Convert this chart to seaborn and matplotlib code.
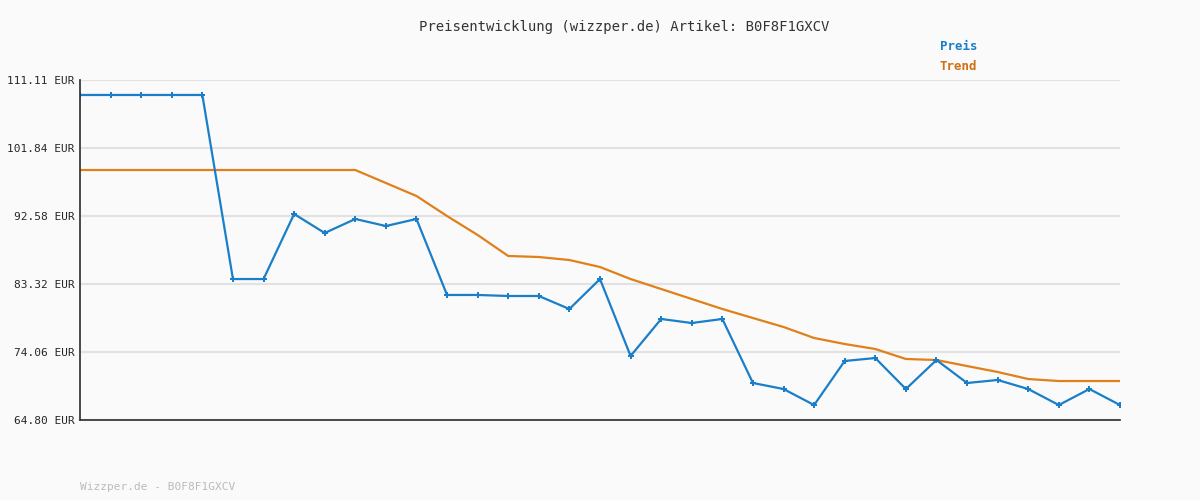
import matplotlib
matplotlib.use("Agg")
import matplotlib.pyplot as plt
import seaborn as sns
import pandas as pd
import numpy as np

preis = [109.07,109.07,109.07,109.07,109.07,84.0,84.0,92.86,90.27,92.18,91.22,92.18,
         81.83,81.83,81.69,81.69,79.92,84.0,73.52,78.56,78.01,78.56,69.84,69.02,66.84,
         72.84,73.24,69.02,72.97,69.84,70.25,69.02,66.84,69.02,66.84]
trend = [98.85]*10 + [97.08,95.31,92.58,90.0,87.14,87.0,86.59,85.64,84.0,82.64,81.28,79.92,
         78.69,77.47,75.97,75.15,74.47,73.11,72.97,72.15,71.34,70.38,70.11,70.11,70.11]
yticks = [64.80,74.06,83.32,92.58,101.84,111.11]
ylabels = ["64.80 EUR","74.06 EUR","83.32 EUR","92.58 EUR","101.84 EUR","111.11 EUR"]

df = pd.DataFrame({"idx": np.arange(len(preis)), "Preis": preis, "Trend": trend})

sns.set_theme(style="white")
plt.rcParams['font.family'] = ['DejaVu Sans Mono']
fig = plt.figure(figsize=(12, 5), dpi=100, facecolor="#fafafa")
ax = fig.add_axes([80/1200, 0.16, 1040/1200, 0.68])
ax.set_facecolor("#fafafa")
sns.lineplot(data=df, x="idx", y="Trend", ax=ax, color="#e0801a", lw=1.6)
sns.lineplot(data=df, x="idx", y="Preis", ax=ax, color="#1a7fc8", lw=1.6,
             marker="P", markersize=4, markeredgewidth=0)
ax.set_xlim(0, len(preis)-1)
ax.set_ylim(64.80, 111.11)
ax.set_yticks(yticks)
ax.set_yticklabels(ylabels, fontsize=8)
ax.set_xticks([])
ax.set_xlabel(""); ax.set_ylabel("")
ax.grid(axis="y", color="#e2e2e2", lw=1.5)
for s in ["top", "right"]:
    ax.spines[s].set_visible(False)
ax.spines["left"].set_color("#333333")
ax.spines["bottom"].set_color("#333333")
ax.tick_params(axis="y", length=3, color="#333333", pad=1)
fig.text(0.52, 0.945, "Preisentwicklung (wizzper.de) Artikel: B0F8F1GXCV", ha="center",
         va="center", fontsize=10, color="#333333")
fig.text(0.783, 0.907, "Preis", color="#1a7fc8", fontsize=9, fontweight="bold", va="center")
fig.text(0.783, 0.866, "Trend", color="#d07010", fontsize=9, fontweight="bold", va="center")
fig.text(80/1200, 0.026, "Wizzper.de - B0F8F1GXCV", color="#bbbbbb", fontsize=8, va="center")
fig.savefig("out.png", dpi=100, facecolor=fig.get_facecolor())
